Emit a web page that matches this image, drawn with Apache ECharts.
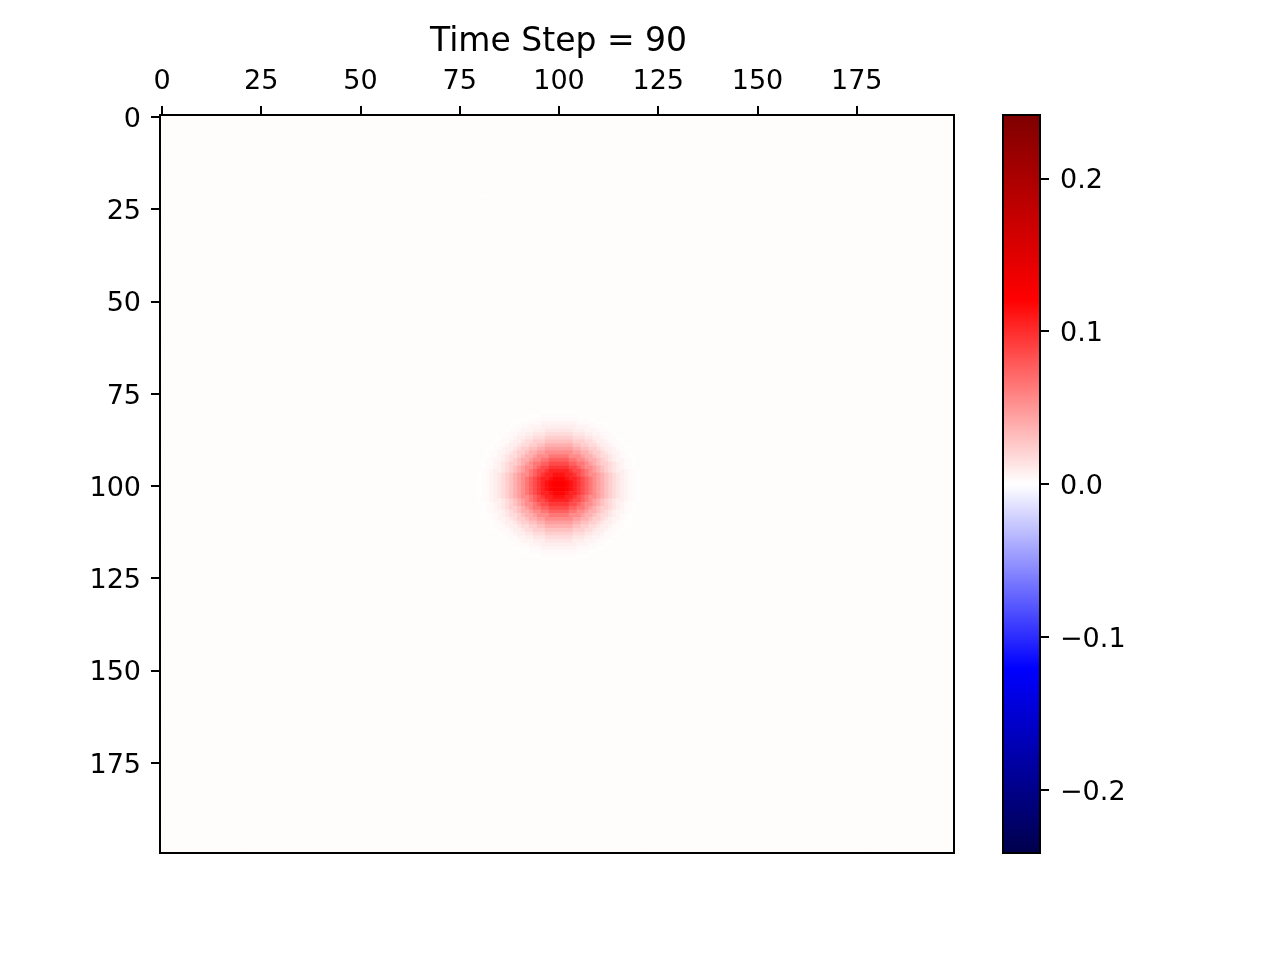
<!DOCTYPE html>
<html>
<head>
<meta charset="utf-8">
<script src="https://cdn.jsdelivr.net/npm/echarts@6/dist/echarts.min.js"></script>
<style>
  html, body { margin: 0; padding: 0; background: #fff; }
  #chart { width: 1280px; height: 960px; }
</style>
</head>
<body>
<div id="chart"></div>
<script>
// grid size (cells) and tick labels
var gridSize = 200;
var tickLabels = ['0', '25', '50', '75', '100', '125', '150', '175'];
var barTickLabels = ['\u22120.2', '\u22120.1', '0.0', '0.1', '0.2'];

// blob centre (cell index) and radial profile
var blobCenter = [100, 100];
var blobProfile = [0.124, 0.122, 0.118, 0.112, 0.104, 0.095, 0.085, 0.075, 0.065,
  0.055, 0.046, 0.038, 0.030, 0.023, 0.017, 0.012, 0.008, 0.005, 0.003, 0.002, 0.001];
var background = 0.0015;

// colour range of the colorbar
var vMin = -0.2414;
var vMax = 0.2414;
var barTickMin = -0.2;
var barTickMax = 0.2;
var seismic = ['#00004c', '#0000ff', '#ffffff', '#ff0000', '#7f0000'];

var cats = [];
for (var c = 0; c < gridSize; c++) cats.push(String(c));

var cells = [];
for (var y = 0; y < gridSize; y++) {
  for (var x = 0; x < gridSize; x++) {
    var dx = x - blobCenter[0], dy = y - blobCenter[1];
    var k = Math.round(Math.sqrt(dx * dx + dy * dy));
    var v = k < blobProfile.length ? blobProfile[k] : background;
    cells.push([x, y, v]);
  }
}

function every25(i) { return i % 25 === 0; }

// colorbar box and the part of it that carries the ticks
var barTop = 115, barHeight = 738;
var tickTop = barTop + (vMax - barTickMax) / (vMax - vMin) * barHeight;
var tickHeight = (barTickMax - barTickMin) / (vMax - vMin) * barHeight;

var font = 'DejaVu Sans';
var lowered = { a: { fontSize: 27, fontFamily: font, color: '#000', padding: [6, 0, 0, 0] } };

var chart = echarts.init(document.getElementById('chart'));
var option = {
  animation: false,
  textStyle: { fontFamily: font },
  title: {
    text: 'Time Step = 90',
    left: 425,
    top: 21,
    textStyle: { fontFamily: font, fontSize: 33, fontWeight: 'normal', color: '#000' }
  },
  grid: [
    { left: 160, top: barTop, width: 794, height: barHeight, show: true, borderColor: '#000', borderWidth: 2, backgroundColor: 'transparent', z: 10 },
    { left: 1003, top: barTop, width: 37, height: barHeight, show: true, borderColor: '#000', borderWidth: 2, backgroundColor: 'transparent', z: 10 },
    { left: 1003, top: tickTop, width: 37, height: tickHeight, show: false }
  ],
  xAxis: [
    {
      type: 'category',
      gridIndex: 0,
      position: 'top',
      data: cats,
      axisLine: { show: true, lineStyle: { color: '#000', width: 2 } },
      axisTick: { show: true, interval: every25, alignWithLabel: true, length: 9, lineStyle: { color: '#000', width: 2 } },
      axisLabel: {
        interval: every25,
        margin: 20,
        fontSize: 27,
        color: '#000',
        fontFamily: font,
        formatter: function (val) { return tickLabels.indexOf(val) >= 0 ? val : ''; }
      },
      splitLine: { show: false }
    },
    { type: 'value', gridIndex: 1, show: false, min: 0, max: 1 },
    { type: 'value', gridIndex: 2, show: false, min: 0, max: 1 }
  ],
  yAxis: [
    {
      type: 'category',
      gridIndex: 0,
      inverse: true,
      data: cats,
      axisLine: { show: true, lineStyle: { color: '#000', width: 2 } },
      axisTick: { show: true, interval: every25, alignWithLabel: true, length: 9, lineStyle: { color: '#000', width: 2 } },
      axisLabel: {
        interval: every25,
        margin: 19,
        rich: lowered,
        formatter: function (val) { return tickLabels.indexOf(val) >= 0 ? '{a|' + val + '}' : ''; }
      },
      splitLine: { show: false }
    },
    { type: 'value', gridIndex: 1, show: false, min: 0, max: 1 },
    {
      type: 'category',
      gridIndex: 2,
      position: 'right',
      boundaryGap: false,
      data: barTickLabels,
      axisLine: { show: false, onZero: false },
      axisTick: { show: true, interval: 0, length: 9, lineStyle: { color: '#000', width: 2 } },
      axisLabel: {
        interval: 0,
        margin: 20,
        rich: lowered,
        formatter: function (val) { return '{a|' + val + '}'; }
      },
      splitLine: { show: false }
    }
  ],
  visualMap: {
    type: 'continuous',
    seriesIndex: 0,
    min: vMin,
    max: vMax,
    calculable: false,
    hoverLink: false,
    realtime: false,
    orient: 'vertical',
    left: 1003,
    top: barTop,
    itemWidth: 37,
    itemHeight: barHeight,
    padding: 0,
    inRange: { color: seismic }
  },
  series: [
    {
      type: 'heatmap',
      xAxisIndex: 0,
      yAxisIndex: 0,
      data: cells,
      progressive: 0,
      itemStyle: { borderWidth: 0 },
      emphasis: { disabled: true }
    }
  ]
};
chart.setOption(option);
</script>
</body>
</html>
